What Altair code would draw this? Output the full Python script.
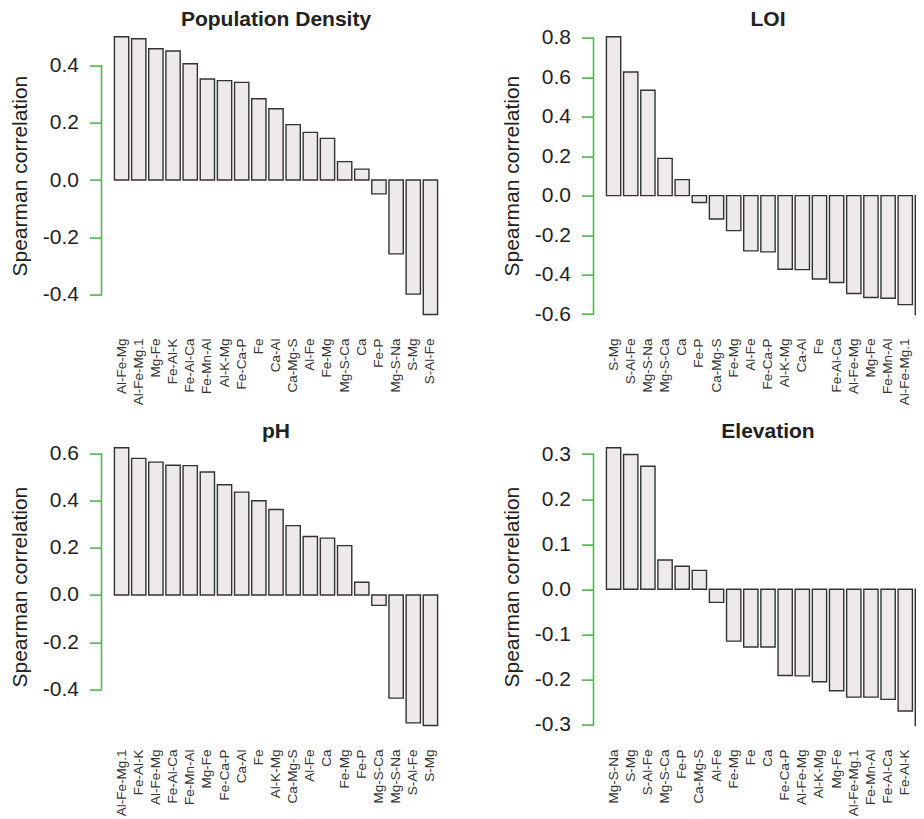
import altair as alt
import pandas as pd

FONT = "Liberation Sans"
GREEN = "#4DB848"
TXT = "#222222"
BAR_FILL = "#EDEAE9"
BAR_STROKE = "#333333"

# ---- data ----
pop_cats = ["Al-Fe-Mg", "Al-Fe-Mg.1", "Mg-Fe", "Fe-Al-K", "Fe-Al-Ca", "Fe-Mn-Al", "Al-K-Mg",
            "Fe-Ca-P", "Fe", "Ca-Al", "Ca-Mg-S", "Al-Fe", "Fe-Mg", "Mg-S-Ca", "Ca", "Fe-P",
            "Mg-S-Na", "S-Mg", "S-Al-Fe"]
pop_vals = [0.499, 0.492, 0.457, 0.449, 0.405, 0.352, 0.346, 0.340, 0.283, 0.248, 0.193,
            0.166, 0.145, 0.064, 0.038, -0.048, -0.257, -0.397, -0.468]
pop_ticks = [-0.4, -0.2, 0.0, 0.2, 0.4]

loi_cats = ["S-Mg", "S-Al-Fe", "Mg-S-Na", "Mg-S-Ca", "Ca", "Fe-P", "Ca-Mg-S", "Fe-Mg", "Al-Fe",
            "Fe-Ca-P", "Al-K-Mg", "Ca-Al", "Fe", "Fe-Al-Ca", "Al-Fe-Mg", "Mg-Fe", "Fe-Mn-Al",
            "Al-Fe-Mg.1", "Fe-Al-K"]
loi_vals = [0.805, 0.626, 0.534, 0.189, 0.081, -0.035, -0.118, -0.177, -0.280, -0.285, -0.373,
            -0.375, -0.422, -0.440, -0.496, -0.516, -0.520, -0.552, -0.602]
loi_ticks = [-0.6, -0.4, -0.2, 0.0, 0.2, 0.4, 0.6, 0.8]

ph_cats = ["Al-Fe-Mg.1", "Fe-Al-K", "Al-Fe-Mg", "Fe-Al-Ca", "Fe-Mn-Al", "Mg-Fe", "Fe-Ca-P",
           "Ca-Al", "Fe", "Al-K-Mg", "Ca-Mg-S", "Al-Fe", "Ca", "Fe-Mg", "Fe-P", "Mg-S-Ca",
           "Mg-S-Na", "S-Al-Fe", "S-Mg"]
ph_vals = [0.624, 0.579, 0.563, 0.550, 0.548, 0.521, 0.467, 0.436, 0.399, 0.362, 0.294, 0.248,
           0.241, 0.209, 0.054, -0.044, -0.437, -0.542, -0.553]
ph_ticks = [-0.4, -0.2, 0.0, 0.2, 0.4, 0.6]

elev_cats = ["Mg-S-Na", "S-Mg", "S-Al-Fe", "Mg-S-Ca", "Fe-P", "Ca-Mg-S", "Al-Fe", "Fe-Mg", "Fe",
             "Ca", "Fe-Ca-P", "Al-Fe-Mg", "Al-K-Mg", "Mg-Fe", "Al-Fe-Mg.1", "Fe-Mn-Al",
             "Fe-Al-Ca", "Fe-Al-K", "Ca-Al"]
elev_vals = [0.314, 0.299, 0.273, 0.065, 0.051, 0.042, -0.029, -0.115, -0.128, -0.128, -0.191,
             -0.192, -0.205, -0.225, -0.239, -0.239, -0.244, -0.270, -0.302]
elev_ticks = [-0.3, -0.2, -0.1, 0.0, 0.1, 0.2, 0.3]

PANEL_W = 349
PANEL_H = 300

LABEL_EXPR = "(datum.value < -0.00001 ? '-' : '') + format(abs(datum.value), '.1f')"


def panel(title, cats, vals, ticks, title_offset):
    df = pd.DataFrame({"cat": cats, "val": vals})
    lo, hi = min(vals), max(vals)
    pad = 0.04 * (hi - lo)
    yscale = alt.Scale(domain=[lo - pad, hi + pad], nice=False, zero=False)
    xscale = alt.Scale(paddingInner=1 / 6, paddingOuter=0.753)

    bars = alt.Chart(df).mark_bar(
        fill=BAR_FILL, stroke=BAR_STROKE, strokeWidth=1.4
    ).encode(
        x=alt.X("cat:N", sort=cats, scale=xscale,
                axis=alt.Axis(title=None, labelAngle=270, domain=False, ticks=False,
                              tickSize=0, labelPadding=12.4, labelFontSize=13.5,
                              labelFont=FONT, labelColor="#333333", labelOverlap=False)),
        y=alt.Y("val:Q", scale=yscale,
                axis=alt.Axis(title="Spearman correlation", values=ticks,
                              labelExpr=LABEL_EXPR, domain=False, grid=False,
                              tickColor=GREEN, tickSize=12, tickWidth=1.6,
                              labelPadding=11, labelFontSize=21, labelFont=FONT,
                              labelColor=TXT, titleFont=FONT, titleFontSize=21,
                              titleFontWeight="normal", titleColor=TXT, titlePadding=12,
                              labelOverlap=False)),
        y2=alt.datum(0),
    )
    axis_line = alt.Chart(pd.DataFrame({"t0": [ticks[0]]})).mark_rule(
        color=GREEN, strokeWidth=1.6
    ).encode(
        x=alt.value(0),
        y=alt.datum(ticks[0]),
        y2=alt.datum(ticks[-1]),
    )
    return alt.layer(bars, axis_line).properties(
        width=PANEL_W, height=PANEL_H,
        title=alt.TitleParams(title, font=FONT, fontSize=21, fontWeight="bold",
                              color=TXT, anchor="middle", frame="group",
                              offset=title_offset),
    )


p1 = panel("Population Density", pop_cats, pop_vals, pop_ticks, -3.9)
p2 = panel("LOI", loi_cats, loi_vals, loi_ticks, -3.9)
p3 = panel("pH", ph_cats, ph_vals, ph_ticks, -5.5)
p4 = panel("Elevation", elev_cats, elev_vals, elev_ticks, -5.5)

# The reference figure is wider than the window: its right-hand panels are cut off at
# the right edge. A fixed-size canvas (autosize "none") reproduces that crop.
chart = alt.vconcat(
    alt.hconcat(p1, p2, spacing=50),
    alt.hconcat(p3, p4, spacing=50),
    spacing=15,
).properties(
    autosize=alt.AutoSizeParams(type="none"),
    padding={"left": 93.5, "top": 17.6, "right": 814.5, "bottom": 794.4},
    background="white",
).configure(font=FONT).configure_view(stroke=None)

chart.save("out.html", embed_options={"renderer": "svg", "actions": False})
